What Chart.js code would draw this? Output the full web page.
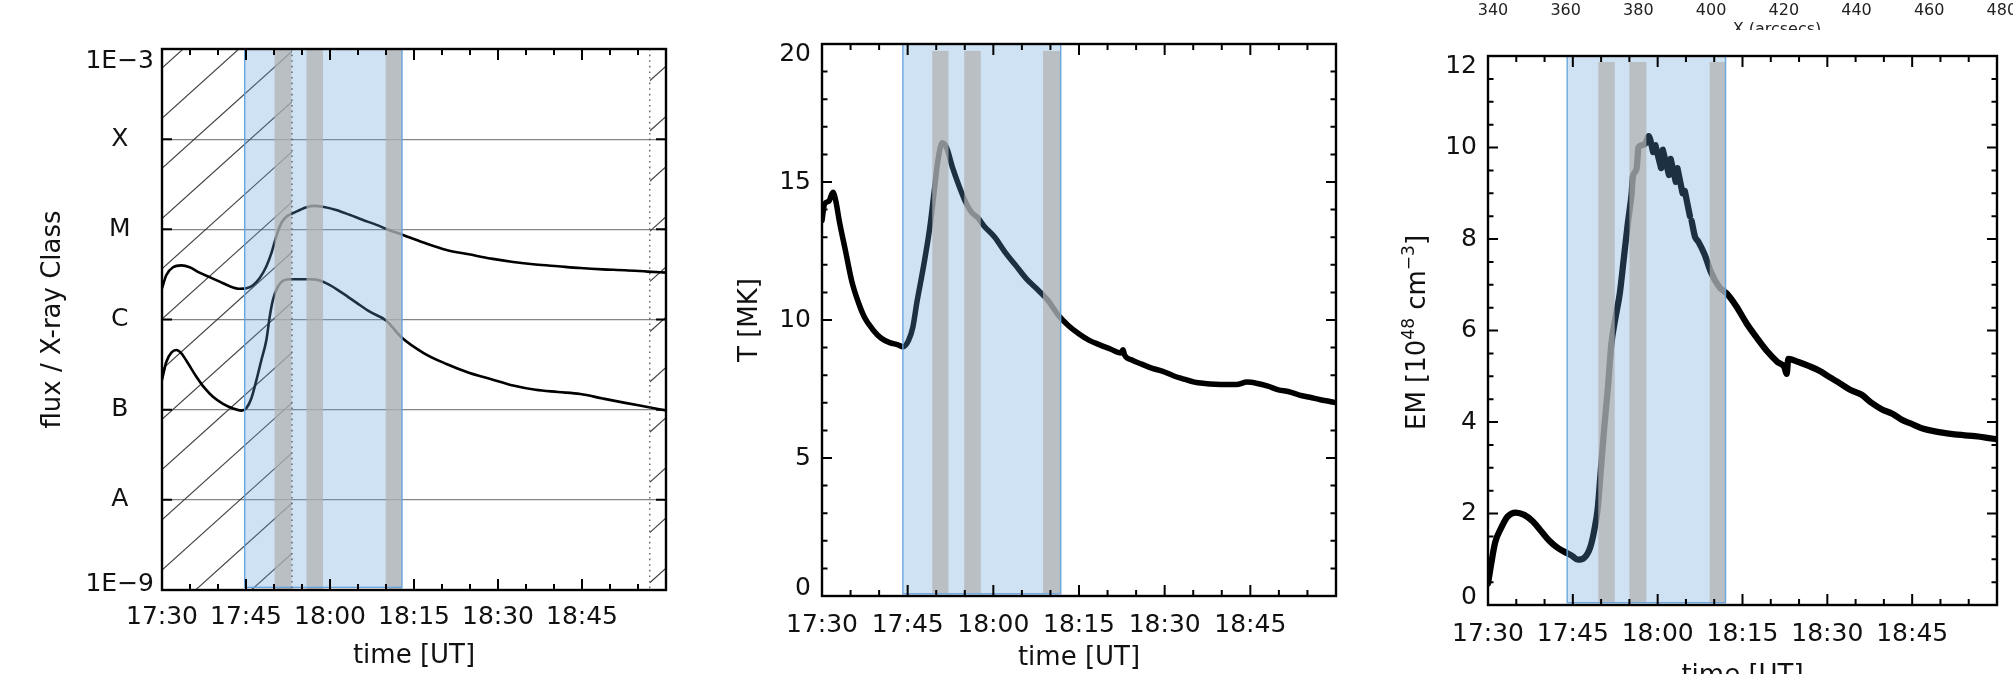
<!DOCTYPE html>
<html>
<head>
<meta charset="utf-8">
<title>GOES flux, temperature and emission measure</title>
<script src="https://cdn.jsdelivr.net/npm/chart.js@4.4.1/dist/chart.umd.min.js"></script>
<style>
  html, body { margin: 0; padding: 0; background: #fff; }
  body { position: relative; width: 2013px; height: 674px; overflow: hidden;
         font-family: 'DejaVu Sans', sans-serif; color: #111; }
  canvas { position: absolute; top: 0; }
  .top-tick { position: absolute; top: 0; height: 20px; line-height: 20px; font-size: 16px;
              transform: translateX(-50%); white-space: nowrap; color: #222; }
  .top-title-clip { position: absolute; top: 20px; height: 10px; overflow: hidden;
                    left: 1697px; width: 160px; }
  .top-title-clip span { position: absolute; left: 50%; top: 0; transform: translateX(-50%);
                         font-size: 16px; line-height: 18px; white-space: nowrap; color: #222; }
</style>
</head>
<body>
<canvas id="fluxChart" width="690" height="674" style="left:0"></canvas>
<canvas id="tempChart" width="670" height="674" style="left:690px"></canvas>
<canvas id="emChart" width="653" height="700" style="left:1360px"></canvas>
<div id="topAxis"></div>
<div class="top-title-clip"><span>X (arcsecs)</span></div>
<script>
// ---------------------------------------------------------------
// Time axis: minutes after 17:30 UT
// ---------------------------------------------------------------
const timeTickValues = [0, 15, 30, 45, 60, 75];
const timeTickLabels = ['17:30', '17:45', '18:00', '18:15', '18:30', '18:45'];

// GOES class levels (W m^-2)
const classTickValues = [1e-9, 1e-8, 1e-7, 1e-6, 1e-5, 1e-4, 1e-3];
const classTickLabels = ['1E\u22129', 'A', 'B', 'C', 'M', 'X', '1E\u22123'];

// Top axis of the neighbouring figure
const topAxisValues = [340, 360, 380, 400, 420, 440, 460, 480];

// GOES 1-8 A flux
const longTime = [0, 0.78, 1.97, 3.46, 4.95, 6.7, 8.5, 10.3, 12.1, 13.9, 15.07, 16.25, 17.45, 18.64, 19.5,
  20.4, 21.3, 22.2, 23.4, 24.6, 25.8, 27.3, 28.7, 31.1, 33.5, 35.9, 38.3, 40.07, 43.04, 46.7,
  50.8, 54.8, 58.8, 62.7, 66.7, 70.7, 74.7, 78.7, 82.7, 86.7, 90];
const longFlux = [2.22e-6, 3.12e-6, 3.80e-6, 3.98e-6, 3.80e-6, 3.31e-6, 2.95e-6, 2.63e-6, 2.34e-6, 2.19e-6,
  2.22e-6, 2.40e-6, 2.88e-6, 3.89e-6, 5.37e-6, 8.32e-6, 1.17e-5, 1.38e-5, 1.51e-5, 1.64e-5,
  1.76e-5, 1.82e-5, 1.78e-5, 1.64e-5, 1.45e-5, 1.27e-5, 1.12e-5, 1.01e-5, 8.65e-6, 7.13e-6,
  5.90e-6, 5.28e-6, 4.73e-6, 4.34e-6, 4.07e-6, 3.89e-6, 3.72e-6, 3.60e-6, 3.52e-6, 3.40e-6, 3.31e-6];

// GOES 0.5-4 A flux
const shortTime = [0, 0.78, 1.67, 2.57, 3.46, 4.64, 6.14, 7.63, 9.1, 10.9, 12.7, 14.2, 15.07, 15.96, 16.86,
  17.75, 18.64, 19.23, 19.8, 20.7, 21.6, 22.8, 24.6, 26.4, 27.86, 29.9, 32.3, 34.7, 37.1, 40.0,
  42.8, 46.8, 50.8, 54.8, 58.8, 62.7, 66.7, 70.7, 74.7, 78.7, 82.7, 86.7, 90];
const shortFlux = [2.13e-7, 3.40e-7, 4.29e-7, 4.59e-7, 4.22e-7, 3.27e-7, 2.32e-7, 1.73e-7, 1.39e-7, 1.16e-7,
  1.03e-7, 9.75e-8, 1.04e-7, 1.34e-7, 2.13e-7, 3.55e-7, 5.93e-7, 1.07e-6, 1.64e-6, 2.31e-6,
  2.69e-6, 2.79e-6, 2.79e-6, 2.79e-6, 2.74e-6, 2.42e-6, 1.95e-6, 1.54e-6, 1.22e-6, 9.77e-7,
  6.31e-7, 4.22e-7, 3.21e-7, 2.57e-7, 2.18e-7, 1.85e-7, 1.66e-7, 1.57e-7, 1.49e-7, 1.33e-7,
  1.19e-7, 1.07e-7, 9.8e-8];

// Temperature (MK)
const tempTime = [0, 0.44, 1.18, 1.91, 2.43, 3.02, 4.12, 5.22, 6.33, 7.43, 8.9, 10.38, 11.85, 13.32, 14.2,
  15.16, 15.9, 16.63, 17.74, 18.84, 19.58, 20.31, 21.05, 21.78, 22.89, 23.99, 25.09, 26.2, 27.3, 28.4,
  30.25, 32.08, 33.92, 35.76, 37.6, 39.44, 41.28, 43.12, 44.96, 46.8, 48.64, 50.48, 52.32, 52.7, 53.0,
  54.16, 56.0, 57.84, 59.68, 61.52, 63.36, 65.2, 67.04, 68.88, 70.72, 72.56, 74.4, 76.24, 78.08, 79.92,
  81.76, 83.6, 85.44, 87.28, 89.12, 90];
const tempMK = [13.6, 14.2, 14.3, 14.63, 14.3, 13.6, 12.5, 11.4, 10.66, 10.1, 9.65, 9.34, 9.18, 9.1, 9.03,
  9.26, 9.73, 10.66, 11.9, 13.3, 14.55, 15.8, 16.42, 16.26, 15.5, 14.86, 14.3, 13.9, 13.7, 13.4,
  13.0, 12.45, 11.98, 11.5, 11.13, 10.74, 10.2, 9.8, 9.5, 9.26, 9.1, 8.95, 8.8, 8.92, 8.72,
  8.56, 8.4, 8.25, 8.14, 7.98, 7.86, 7.75, 7.7, 7.67, 7.66, 7.66, 7.75, 7.7, 7.6, 7.47,
  7.4, 7.28, 7.2, 7.11, 7.04, 7.0];

// Emission measure (10^48 cm^-3); null marks a break between fit segments
const emTime = [0, 0.5, 1.25, 2.35, 3.45, 4.9, 6.4, 7.9, 9.3, 10.8, 12.3, 13.7, 14.8, 15.9, 17.0,
  18.1, 18.8, 19.4, 19.9, 20.5, 21.2, 21.8, 22.5, 23.3, 24.0, 24.7, 25.0, 25.4, 25.6, 25.9,
  26.3, 26.6, 27.2, 27.9, 28.4, 29.2, 29.4, 29.6, 30.6, 30.75, 30.9, 32.0, 32.15, 32.3, 33.2,
  33.35, 33.5, 34.4, 34.6, 34.8, 35.7, 35.85, 36.0, 36.6, 37.2, 38.3, 39.4, 40.9, 42.2, 43.9,
  45.7, 47.6, 49.4, 51.2, 52.4, 52.8, 53.1, 54.9, 56.8, 58.6, 60.4, 62.3, 64.1, 66.0, 67.8,
  69.6, 71.5, 73.3, 75.1, 77.0, 78.8, 80.6, 82.5, 84.3, 86.1, 88.0, 90];
const emValue = [0.47, 0.85, 1.36, 1.69, 1.93, 2.02, 1.97, 1.83, 1.63, 1.41, 1.25, 1.15, 1.08, 0.99, 1.03,
  1.27, 1.64, 2.11, 2.87, 3.8, 4.75, 5.69, 6.25, 6.81, 7.56, 8.32, 8.6, 9.0, 9.35, 9.45,
  9.55, 10.0, 10.05, 10.1, 10.25, 9.9, null, 10.05, 9.55, null, 9.95, 9.4, null, 9.75, 9.25,
  null, 9.55, 9.0, null, 9.05, 8.5, null, 8.4, 8.05, 7.94, 7.66, 7.28, 6.95, 6.81, 6.53,
  6.16, 5.83, 5.54, 5.31, 5.2, 5.05, 5.38, 5.31, 5.22, 5.12, 4.98, 4.84, 4.70, 4.60, 4.42,
  4.28, 4.18, 4.04, 3.95, 3.85, 3.80, 3.76, 3.73, 3.71, 3.69, 3.66, 3.62];

// Flare window (blue) and analysis intervals (grey), minutes after 17:30
const fluxWindow = [14.77, 42.86];
const fluxBands = [[20.1, 23.1], [25.8, 28.75], [39.95, 42.86]];
const fluxWindowY = [1.07e-9, 1e-3];
const fluxBandY = [1e-9, 1e-3];
const fluxHatch = [[0, 23.2], [87.1, 90]];
const fluxDotted = [23.2, 87.1];

const tempWindow = [14.16, 41.8];
const tempBands = [[19.3, 22.15], [24.9, 27.8], [38.7, 41.8]];
const tempWindowY = [0.08, 20];
const tempBandY = [0.1, 19.75];

const emWindow = [14.0, 42.0];
const emBands = [[19.5, 22.4], [25.0, 28.0], [39.2, 42.0]];
const emWindowY = [0.05, 12];
const emBandY = [0.05, 11.87];

// ---------------------------------------------------------------
Chart.defaults.font.family = "'DejaVu Sans', sans-serif";
Chart.defaults.color = '#111';
Chart.defaults.animation = false;

const pts = (xs, ys) => xs.map((t, i) => ({ x: t, y: ys[i] }));

// Frame, inward ticks, hatching and shaded intervals
const panelDecor = {
  id: 'panelDecor',
  beforeDraw(chart, args, o) {
    const ys = chart.scales.y;
    const items = ys.getLabelItems(chart.chartArea);
    if (items.length && !items.adjusted) {
      items[0].options.translation[1] -= o.lift[0];
      items[items.length - 1].options.translation[1] += o.lift[1];
      items.adjusted = true;
    }
  },
  beforeDatasetsDraw(chart, args, o) {
    if (!o.hatch) return;
    const { ctx, chartArea: ca, scales: { x } } = chart;
    ctx.save();
    ctx.strokeStyle = 'rgba(50,50,50,0.9)';
    ctx.lineWidth = 1.2;
    for (const [a, b] of o.hatch) {
      const x0 = x.getPixelForValue(a), x1 = x.getPixelForValue(b);
      ctx.save();
      ctx.beginPath();
      ctx.rect(x0, ca.top, x1 - x0, ca.bottom - ca.top);
      ctx.clip();
      ctx.beginPath();
      for (let k = -15; k < 40; k++) {
        const base = ca.top + 19 + k * 50.2;
        ctx.moveTo(x0, base - 0.9 * (x0 - ca.left));
        ctx.lineTo(x1, base - 0.9 * (x1 - ca.left));
      }
      ctx.stroke();
      ctx.restore();
    }
    ctx.restore();
  },
  afterDatasetsDraw(chart, args, o) {
    const { ctx, chartArea: ca, scales: { x, y } } = chart;
    ctx.save();
    const wx0 = x.getPixelForValue(o.window[0]), wx1 = x.getPixelForValue(o.window[1]);
    const wy0 = y.getPixelForValue(o.windowY[1]), wy1 = y.getPixelForValue(o.windowY[0]);
    ctx.fillStyle = 'rgba(95,158,215,0.30)';
    ctx.fillRect(wx0, wy0, wx1 - wx0, wy1 - wy0);

    const gy0 = y.getPixelForValue(o.bandY[1]), gy1 = y.getPixelForValue(o.bandY[0]);
    ctx.fillStyle = 'rgba(178,178,178,0.72)';
    for (const [a, b] of o.bands) {
      const bx0 = x.getPixelForValue(a), bx1 = x.getPixelForValue(b);
      ctx.fillRect(bx0, gy0, bx1 - bx0, gy1 - gy0);
    }
    ctx.strokeStyle = 'rgba(100,162,222,0.95)';
    ctx.lineWidth = 1.4;
    ctx.strokeRect(wx0, wy0, wx1 - wx0, wy1 - wy0);

    if (o.dotted) {
      ctx.save();
      ctx.setLineDash([1.6, 4]);
      ctx.strokeStyle = '#555';
      ctx.lineWidth = 1.3;
      ctx.beginPath();
      for (const t of o.dotted) {
        const px = x.getPixelForValue(t);
        ctx.moveTo(px, ca.top); ctx.lineTo(px, ca.bottom);
      }
      ctx.stroke();
      ctx.restore();
    }

    ctx.strokeStyle = '#000';
    ctx.lineWidth = 2.4;
    ctx.strokeRect(ca.left, ca.top, ca.right - ca.left, ca.bottom - ca.top);

    ctx.lineWidth = 2;
    ctx.beginPath();
    for (let v = x.min; v <= x.max + 1e-6; v += o.xMinor) {
      const px = x.getPixelForValue(v);
      const len = Math.abs(v % o.xMajor) < 1e-6 ? 11 : 6;
      ctx.moveTo(px, ca.bottom); ctx.lineTo(px, ca.bottom - len);
      ctx.moveTo(px, ca.top); ctx.lineTo(px, ca.top + len);
    }
    for (const t of y.ticks) {
      const py = y.getPixelForValue(t.value);
      ctx.moveTo(ca.left, py); ctx.lineTo(ca.left + 10, py);
      ctx.moveTo(ca.right, py); ctx.lineTo(ca.right - 10, py);
    }
    if (o.yMinor) {
      for (let v = y.min; v <= y.max + 1e-6; v += o.yMinor) {
        const py = y.getPixelForValue(v);
        ctx.moveTo(ca.left, py); ctx.lineTo(ca.left + 5.5, py);
        ctx.moveTo(ca.right, py); ctx.lineTo(ca.right - 5.5, py);
      }
    }
    ctx.stroke();

    if (o.emTitle) {
      // rotated title with superscripts
      const parts = [
        { t: 'EM [10', s: 26, dy: 0 },
        { t: '48', s: 17, dy: -11 },
        { t: ' cm', s: 26, dy: 0 },
        { t: '\u22123', s: 17, dy: -11 },
        { t: ']', s: 26, dy: 0 }
      ];
      ctx.save();
      ctx.translate(o.emTitle.x, (ca.top + ca.bottom) / 2 + o.emTitle.dy);
      ctx.rotate(-Math.PI / 2);
      ctx.fillStyle = '#111';
      ctx.textBaseline = 'alphabetic';
      let total = 0;
      for (const p of parts) {
        ctx.font = p.s + "px 'DejaVu Sans'";
        p.w = ctx.measureText(p.t).width;
        total += p.w;
      }
      let u = -total / 2;
      for (const p of parts) {
        ctx.font = p.s + "px 'DejaVu Sans'";
        ctx.fillText(p.t, u, p.dy);
        u += p.w;
      }
      ctx.restore();
    }
    ctx.restore();
  }
};

function timeAxis(height, labelPad, titlePad) {
  return {
    type: 'linear', min: 0, max: 90,
    afterBuildTicks: s => { s.ticks = timeTickValues.map(v => ({ value: v })); },
    afterFit: s => { s.height = height; },
    ticks: { callback: (v, i) => timeTickLabels[i], font: { size: 25 }, padding: labelPad,
             maxRotation: 0, autoSkip: false, color: '#111' },
    grid: { display: false, drawTicks: false },
    border: { display: false },
    title: { display: true, text: 'time [UT]', font: { size: 26 }, color: '#111',
             padding: { top: 0, bottom: titlePad } }
  };
}

function lineSet(data, width) {
  return {
    data, borderColor: '#000', borderWidth: width, pointRadius: 0, fill: false,
    cubicInterpolationMode: 'monotone', borderCapStyle: 'round', borderJoinStyle: 'round',
    spanGaps: false
  };
}

// ---- Panel 1: GOES flux ----
new Chart(document.getElementById('fluxChart'), {
  type: 'line',
  data: { datasets: [lineSet(pts(longTime, longFlux), 2.6), lineSet(pts(shortTime, shortFlux), 2.6)] },
  options: {
    responsive: false, animation: false, parsing: true,
    layout: { padding: { left: 0, top: 49, right: 24, bottom: 0 } },
    plugins: {
      legend: { display: false }, tooltip: { enabled: false },
      panelDecor: { window: fluxWindow, windowY: fluxWindowY, bands: fluxBands, bandY: fluxBandY,
                    hatch: fluxHatch, dotted: fluxDotted, xMinor: 5, xMajor: 15, yMinor: null,
                    lift: [6, 12] }
    },
    scales: {
      x: timeAxis(84, 12.5, 1.7),
      y: {
        type: 'logarithmic', min: 1e-9, max: 1e-3,
        afterBuildTicks: s => { s.ticks = classTickValues.map(v => ({ value: v })); },
        afterFit: s => { s.width = 162; },
        ticks: { callback: (v, i) => classTickLabels[i], font: { size: 25 }, padding: 8,
                 crossAlign: 'center', autoSkip: false, color: '#111' },
        grid: { display: true, drawTicks: false, color: 'rgba(120,120,120,0.9)', lineWidth: 1.3 },
        border: { display: false },
        title: { display: true, text: 'flux / X-ray Class', font: { size: 26 }, color: '#111',
                 padding: { top: 38, bottom: 0 } }
      }
    }
  },
  plugins: [panelDecor]
});

// ---- Panel 2: temperature ----
new Chart(document.getElementById('tempChart'), {
  type: 'line',
  data: { datasets: [lineSet(pts(tempTime, tempMK), 5.5)] },
  options: {
    responsive: false, animation: false,
    layout: { padding: { left: 0, top: 44, right: 24, bottom: 0 } },
    plugins: {
      legend: { display: false }, tooltip: { enabled: false },
      panelDecor: { window: tempWindow, windowY: tempWindowY, bands: tempBands, bandY: tempBandY,
                    xMinor: 5, xMajor: 15, yMinor: 1, lift: [8, 10] }
    },
    scales: {
      x: timeAxis(78, 14, 0),
      y: {
        type: 'linear', min: 0, max: 20,
        afterFit: s => { s.width = 132; },
        ticks: { stepSize: 5, font: { size: 25 }, padding: 11, color: '#111' },
        grid: { display: false, drawTicks: false },
        border: { display: false },
        title: { display: true, text: 'T [MK]', font: { size: 26 }, color: '#111',
                 padding: { top: 44.4, bottom: 0 } }
      }
    }
  },
  plugins: [panelDecor]
});

// ---- Panel 3: emission measure ----
new Chart(document.getElementById('emChart'), {
  type: 'line',
  data: { datasets: [lineSet(pts(emTime, emValue), 6.3)] },
  options: {
    responsive: false, animation: false,
    layout: { padding: { left: 0, top: 56, right: 16, bottom: 0 } },
    plugins: {
      legend: { display: false }, tooltip: { enabled: false },
      panelDecor: { window: emWindow, windowY: emWindowY, bands: emBands, bandY: emBandY,
                    xMinor: 5, xMajor: 15, yMinor: 0.5, lift: [8, 10],
                    emTitle: { x: 64.5, dy: 2 } }
    },
    scales: {
      x: timeAxis(95, 14, 8.4),
      y: {
        type: 'linear', min: 0, max: 12,
        afterFit: s => { s.width = 128; },
        ticks: { stepSize: 2, font: { size: 25 }, padding: 11, color: '#111' },
        grid: { display: false, drawTicks: false },
        border: { display: false },
        title: { display: false }
      }
    }
  },
  plugins: [panelDecor]
});

// ---- Top axis labels of the neighbouring figure ----
const topAxis = document.getElementById('topAxis');
for (const v of topAxisValues) {
  const el = document.createElement('div');
  el.className = 'top-tick';
  el.style.left = (1493 + (v - 340) * 72.7 / 20) + 'px';
  el.textContent = String(v);
  topAxis.appendChild(el);
}
</script>
</body>
</html>
